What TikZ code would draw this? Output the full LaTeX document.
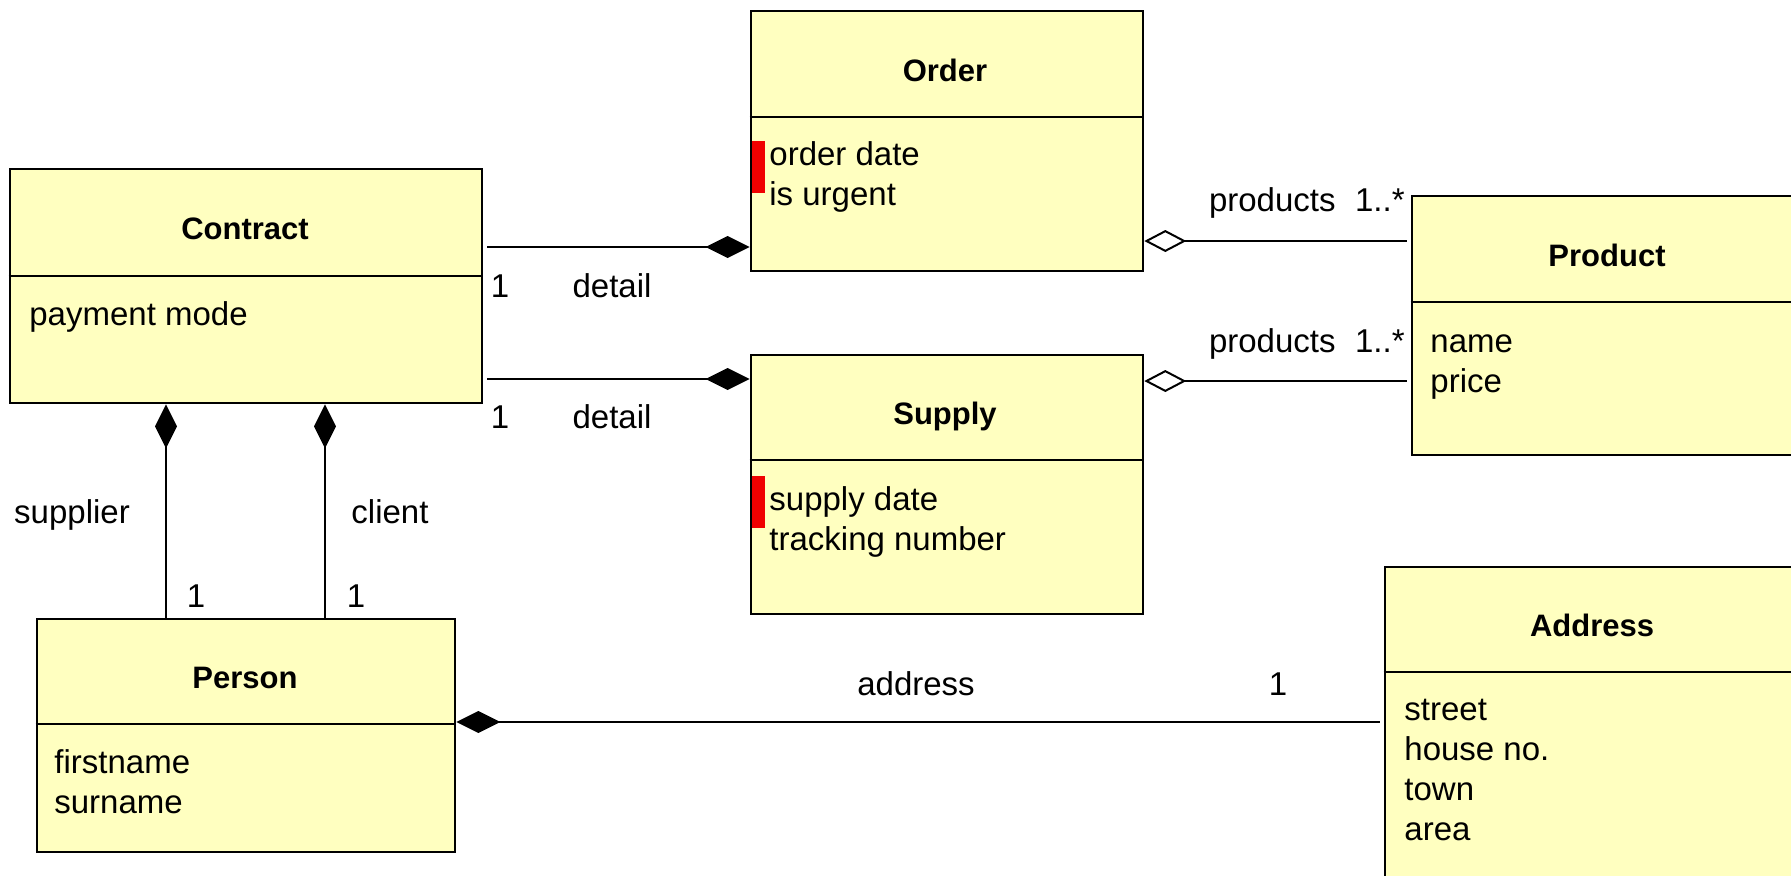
\documentclass[tikz,border=0pt]{standalone}
\usepackage{fontspec}
\setmainfont{Liberation Sans}
\usetikzlibrary{arrows.meta}
\definecolor{umlfill}{RGB}{255,255,192}
\definecolor{barred}{RGB}{240,0,0}
\begin{document}
\begin{tikzpicture}[x=0.5pt,y=-0.5pt,
  cls/.style={draw=black,line width=1.3pt,fill=umlfill,inner sep=0pt,rectangle},
  divider/.style={line width=1.3pt},
  clstitle/.style={font=\fontsize{15.5pt}{18pt}\selectfont\bfseries,anchor=base,inner sep=0pt},
  attr/.style={font=\fontsize{16.5pt}{20pt}\selectfont,anchor=base west,inner sep=0pt},
  lbl/.style={font=\fontsize{16.5pt}{20pt}\selectfont,anchor=base,inner sep=0pt},
  lble/.style={font=\fontsize{16.5pt}{20pt}\selectfont,anchor=base east,inner sep=0pt},
  conn/.style={line width=1pt},
  comp/.style={conn,-{Diamond[length=22pt,width=11pt]}},
  aggr/.style={conn,-{Diamond[open,length=21pt,width=11pt,fill=white]}},
  redbar/.style={fill=barred}
]
\useasboundingbox (0,0) rectangle (1791,875);
\fill[white] (0,0) rectangle (1791,875);
\clip (0,0) rectangle (1791,875);

% class boxes
\node[cls,minimum width=236pt,minimum height=117pt] (contract) at (246,286) {};
\node[cls,minimum width=196pt,minimum height=130pt] (order) at (947,141) {};
\node[cls,minimum width=196pt,minimum height=129.5pt] (supply) at (947,484.5) {};
\node[cls,minimum width=196pt,minimum height=129.5pt] (product) at (1608,325.5) {};
\node[cls,minimum width=209pt,minimum height=116.5pt] (person) at (246,735.5) {};
\node[cls,minimum width=210pt,minimum height=166.5pt] (address) at (1595,733.5) {};

% dividers
\draw[divider] (contract.west |- 0,276) -- (contract.east |- 0,276);
\draw[divider] (order.west |- 0,117) -- (order.east |- 0,117);
\draw[divider] (supply.west |- 0,460) -- (supply.east |- 0,460);
\draw[divider] (product.west |- 0,302) -- (product.east |- 0,302);
\draw[divider] (person.west |- 0,724) -- (person.east |- 0,724);
\draw[divider] (address.west |- 0,672) -- (address.east |- 0,672);

% red markers
\fill[redbar] (752,141) rectangle (765,193);
\fill[redbar] (752,476) rectangle (765,528);

% titles
\node[clstitle] (contractT) at (245,239.5) {Contract};
\node[clstitle] (orderT) at (945,81) {Order};
\node[clstitle] (supplyT) at (945,424.5) {Supply};
\node[clstitle] (productT) at (1607,266) {Product};
\node[clstitle] (personT) at (245,688.5) {Person};
\node[clstitle] (addressT) at (1592,636.5) {Address};

% attributes
\node[attr] (a1) at (29,325) {payment mode};
\node[attr] (a2) at (769,165) {order date};
\node[attr] (a3) at (769,205) {is urgent};
\node[attr] (a4) at (769,510) {supply date};
\node[attr] (a5) at (769,550) {tracking number};
\node[attr] (a6) at (1430,352) {name};
\node[attr] (a7) at (1430,392) {price};
\node[attr] (a8) at (54,773) {firstname};
\node[attr] (a9) at (54,813) {surname};
\node[attr] (a10) at (1404,720) {street};
\node[attr] (a11) at (1404,760) {house no.};
\node[attr] (a12) at (1404,800) {town};
\node[attr] (a13) at (1404,840) {area};

% connectors
\draw[comp,shorten <=2pt] (contract.east |- 0,247) -- (order.west |- 0,247);
\draw[comp,shorten <=2pt] (contract.east |- 0,379) -- (supply.west |- 0,379);
\draw[aggr,shorten <=2pt] (product.west |- 0,241) -- (order.east |- 0,241);
\draw[aggr,shorten <=2pt] (product.west |- 0,381) -- (supply.east |- 0,381);
\draw[comp] (person.north -| 166,0) -- (contract.south -| 166,0);
\draw[comp] (person.north -| 325,0) -- (contract.south -| 325,0);
\draw[comp,shorten <=2pt] (address.west |- 0,722) -- (person.east |- 0,722);

% connector labels
\node[lbl] (l1) at (500,297) {1};
\node[lbl] (l2) at (612,297) {detail};
\node[lbl] (l3) at (500,428) {1};
\node[lbl] (l4) at (612,428) {detail};
\node[lble] (l5) at (1336,211) {products};
\node[lble] (l6) at (1405,211) {1..*};
\node[lble] (l7) at (1336,352) {products};
\node[lble] (l8) at (1405,352) {1..*};
\node[lbl] (l9) at (72,523) {supplier};
\node[lbl] (l10) at (390,523) {client};
\node[lbl] (l11) at (196,607) {1};
\node[lbl] (l12) at (356,607) {1};
\node[lbl] (l13) at (916,695) {address};
\node[lbl] (l14) at (1278,695) {1};
\end{tikzpicture}
\end{document}
